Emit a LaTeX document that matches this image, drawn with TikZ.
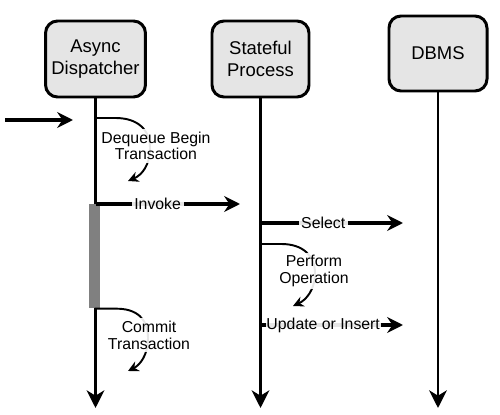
\documentclass[tikz,border=0pt]{standalone}
\usepackage{fontspec}
\setmainfont{Liberation Sans}
\usetikzlibrary{arrows.meta,calc,positioning}

\begin{document}
\begin{tikzpicture}[x=0.2mm,y=-0.2mm]

\tikzset{actornode/.style={draw,line width=1.7pt,fill=black!10,rounded corners=2.4mm,minimum width=19.4mm,minimum height=15.2mm,align=center,font=\fontsize{10.5}{12.5}\selectfont},
lifeline/.style={line width=1.7pt,-{Stealth[length=10pt,width=10pt,inset=3pt]}},
msgarrow/.style={line width=2.2pt,-{Stealth[length=9pt,width=9pt,inset=3pt]}},
selfloop/.style={line width=1.1pt,-{Stealth[length=6pt,width=6pt,inset=2pt]}},
msglabel/.style={font=\fontsize{9}{9.5}\selectfont,align=center,fill=white,fill opacity=0.9,text opacity=1,inner sep=1.5pt}}

\useasboundingbox (0,0) rectangle (500,415);

% Actors
\node[actornode] (disp) at (95.5,59) {Async\\Dispatcher};
\node[actornode] (proc) at (260.5,59) {Stateful\\Process};
\node[actornode,minimum width=19.6mm,minimum height=15mm] (dbms) at (438,53.5) {DBMS};

% Lifelines
\coordinate (bottom) at (0,408);
\foreach \a in {disp,proc,dbms} \draw[lifeline] (\a.south) -- (\a.south |- bottom);

% Activation bar
\node[fill=black!50,inner sep=0pt,minimum width=2.2mm,minimum height=20.8mm,anchor=north] (active) at (94.5,204) {};

% Incoming message
\coordinate (src) at (5,120); \coordinate (dst) at (73,120);
\draw[msgarrow] (src) -- (dst);

% Messages
\coordinate (invokeFrom) at (disp.south |- 0,204); \coordinate (invokeTo) at (240,204);
\coordinate (selectFrom) at (proc.south |- 0,223); \coordinate (selectTo) at (403,223);
\coordinate (updateFrom) at (proc.south |- 0,325); \coordinate (updateTo) at (403,325);
\draw[msgarrow] (invokeFrom) -- node[msglabel,pos=0.43] {Invoke} (invokeTo);
\draw[msgarrow] (selectFrom) -- node[msglabel,pos=0.44] {Select} (selectTo);
\draw[msgarrow] (updateFrom) -- node[msglabel,pos=0.44,inner sep=0.5pt] {Update or Insert} (updateTo);

% Self loops
\coordinate (dequeueFrom) at (disp.south |- 0,118); \coordinate (dequeueTo) at (128,181);
\coordinate (commitTo) at (128,371);
\coordinate (performFrom) at (proc.south |- 0,244); \coordinate (performTo) at (293,306);
\draw[selfloop] (dequeueFrom) -- +(20,0) .. controls (138,118) and (150,130) .. (150,148) .. controls (150,165) and (142,175) .. (dequeueTo);
\draw[selfloop] (active.south) -- +(20,0) .. controls (138,308) and (148,320) .. (148,338) .. controls (148,355) and (140,365) .. (commitTo);
\draw[selfloop] (performFrom) -- +(21,0) .. controls (303,244) and (315,256) .. (315,273) .. controls (315,290) and (306,300) .. (performTo);
\node[msglabel] (dequeue) at (156,146) {Dequeue Begin\\Transaction};
\node[msglabel] (commit) at (149,335) {Commit\\Transaction};
\node[msglabel] (perform) at (314,271) {Perform\\Operation};

\end{tikzpicture}
\end{document}
